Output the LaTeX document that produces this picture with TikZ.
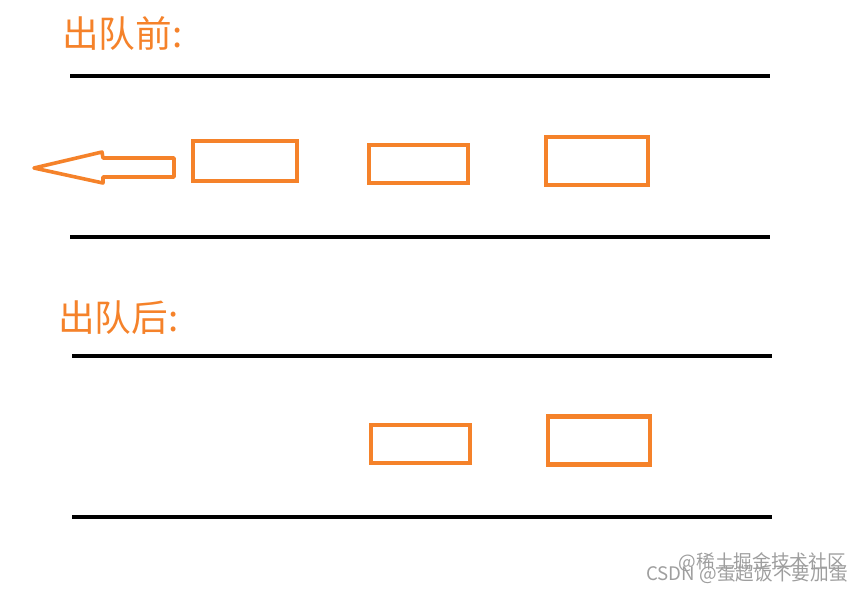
\documentclass[tikz,border=0pt]{standalone}
\usepackage{fontspec}
\newfontfamily\cjk{Noto Sans CJK SC}
\definecolor{color1}{rgb}{0.961,0.510,0.165}
\definecolor{color2}{rgb}{0.62,0.62,0.62}
\begin{document}
\begin{tikzpicture}[x=0.75pt,y=-0.75pt,
  box/.style={draw=color1,line width=3.3pt,inner sep=0pt},
  title/.style={color1,anchor=west,inner sep=0pt,font=\cjk\fontsize{27.5}{27.5}\selectfont},
  wmark/.style={color2,inner sep=0pt,font=\cjk\fontsize{14}{14}\selectfont}]
  \useasboundingbox (0,0) rectangle (862,594);

  % lane borders
  \foreach \y/\x in {76/70,237/70,356/72,517/72}{
    \draw [line width=3.5pt] (\x,\y) -- ++(700,0);
  }

  \node [title] (before) at (62,34) {出队前:};
  \node [title] (after) at (58,318) {出队后:};

  % queue before
  \node [box,minimum width=78pt,minimum height=30pt] (b1) at (245,161) {};
  \node [box,minimum width=74.25pt,minimum height=28.5pt] (b2) at (418.5,164) {};
  \node [box,minimum width=76.5pt,minimum height=36pt] (b3) at (597,161) {};
  \draw [color1,line width=2.7pt,line join=round] (174,158) -- (103,158) -- (102,152) -- (34,168) -- (103,183) -- (103,177) -- (174,177) -- cycle;

  % queue after
  \node [box,minimum width=74.25pt,minimum height=28.5pt] (a2) at (420.5,444) {};
  \node [box,minimum width=76.5pt,minimum height=36pt] (a3) at (599,440.5) {};

  \node [wmark,anchor=east] (site) at (846,562) {@稀土掘金技术社区};
  \node [wmark,anchor=east] (user) at (848,574) {CSDN @蛋超饭不要加蛋};
\end{tikzpicture}
\end{document}
